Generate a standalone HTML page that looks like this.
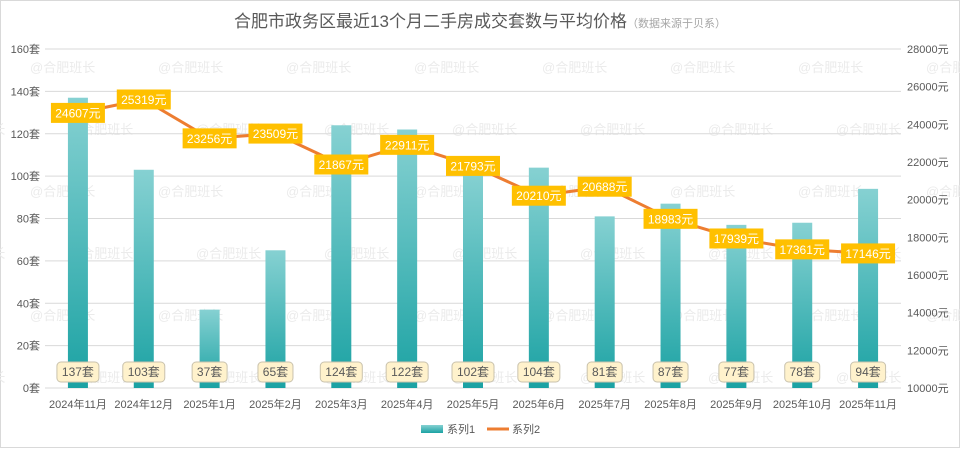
<!DOCTYPE html>
<html><head><meta charset="utf-8"><style>
body{margin:0;background:#fff;}
svg text{font-family:"Liberation Sans","Noto Sans CJK SC",sans-serif;}
</style></head><body>
<svg id="c" width="960" height="448" viewBox="0 0 960 448" xmlns="http://www.w3.org/2000/svg">
<defs>
<linearGradient id="bg" x1="0" y1="0" x2="0" y2="1"><stop offset="0" stop-color="#86D1D2"/><stop offset="1" stop-color="#1BA2A3"/></linearGradient>
</defs>
<rect x="0.5" y="0.5" width="959" height="447" fill="#fff" stroke="#d9d9d9"/>
<g id="wm"></g>
<text x="480" y="27" text-anchor="middle" font-size="17" fill="#595959">合肥市政务区最近13个月二手房成交套数与平均价格<tspan font-size="11" fill="#a6a6a6">（数据来源于贝系）</tspan></text>
<g id="grid"></g><g id="bars"></g><g id="line"></g><g id="labels"></g><g id="axes"></g>
<g>
<rect x="421" y="425" width="22" height="8" fill="url(#bg)"/>
<text x="447" y="433" font-size="11" fill="#595959">系列1</text>
<line x1="487" y1="429" x2="509" y2="429" stroke="#ED7D31" stroke-width="3"/>
<text x="512" y="433" font-size="11" fill="#595959">系列2</text>
</g>
</svg>
<script>
const categories=["2024年11月","2024年12月","2025年1月","2025年2月","2025年3月","2025年4月","2025年5月","2025年6月","2025年7月","2025年8月","2025年9月","2025年10月","2025年11月"];
const counts=[137,103,37,65,124,122,102,104,81,87,77,78,94];
const prices=[24607,25319,23256,23509,21867,22911,21793,20210,20688,18983,17939,17361,17146];
const leftTicks=[0,20,40,60,80,100,120,140,160];
const rightTicks=[10000,12000,14000,16000,18000,20000,22000,24000,26000,28000];
const NS="http://www.w3.org/2000/svg";
const X0=45,X1=901,Y0=388,Y1=49;
const step=(X1-X0)/categories.length;
const xc=i=>X0+step*(i+0.5);
const yl=v=>Y0-(v-0)/(160-0)*(Y0-Y1);
const yr=v=>Y0-(v-10000)/(28000-10000)*(Y0-Y1);
function mk(tag,attrs,parent,txt){const e=document.createElementNS(NS,tag);for(const k in attrs)e.setAttribute(k,attrs[k]);if(txt!==undefined)e.textContent=txt;document.getElementById(parent).appendChild(e);return e;}
for(let r=0;r<6;r++)for(let c=0;c<8;c++){const t=mk('text',{x:30+c*128-(r%2?90:0),y:72+r*62,'font-size':13,fill:'#ebebeb'},'wm','@合肥班长');

}
leftTicks.forEach(v=>{const l=mk('line',{x1:X0,x2:X1,y1:yl(v),y2:yl(v),stroke:'#d9d9d9','stroke-width':1},'grid');


const t=mk('text',{x:40,y:yl(v)+4,'text-anchor':'end','font-size':11,fill:'#595959'},'axes',v+'套');

});
rightTicks.forEach(v=>{const t=mk('text',{x:907,y:yr(v)+4,'font-size':11,fill:'#595959'},'axes',v+'元');

});
categories.forEach((c,i)=>{const t=mk('text',{x:xc(i),y:408,'text-anchor':'middle','font-size':11,fill:'#595959'},'axes',c);

});
counts.forEach((v,i)=>{const b=mk('rect',{x:xc(i)-10,y:yl(v),width:20,height:Y0-yl(v),fill:'url(#bg)'},'bars');


const s=v+'套',w=s.length*7+14;
const r=mk('rect',{x:xc(i)-w/2,y:362,width:w,height:20,rx:4,fill:'#FFF2CC',stroke:'#c9c2ad'},'labels');


const t=mk('text',{x:xc(i),y:376,'text-anchor':'middle','font-size':12,fill:'#595959'},'labels',s);

});
const pl=mk('polyline',{points:prices.map((v,i)=>xc(i)+','+yr(v)).join(' '),fill:'none',stroke:'#ED7D31','stroke-width':3,'stroke-linejoin':'round'},'line');


prices.forEach((v,i)=>{const s=v+'元';
const r=mk('rect',{x:xc(i)-27,y:yr(v)-10,width:54,height:20,fill:'#FFC000'},'labels');


const t=mk('text',{x:xc(i),y:yr(v)+4.5,'text-anchor':'middle','font-size':12,fill:'#fff'},'labels',s);

});
</script>
</body></html>
